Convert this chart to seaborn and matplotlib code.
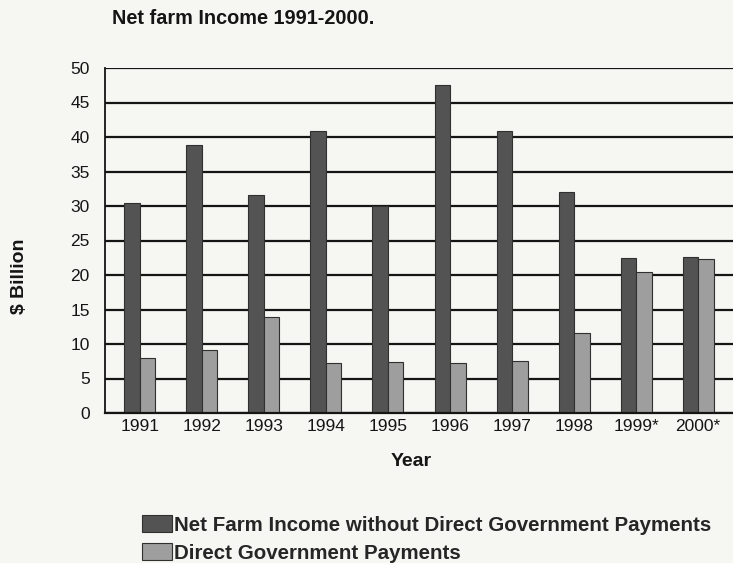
import matplotlib
matplotlib.use("Agg")
import matplotlib.pyplot as plt
import seaborn as sns
import pandas as pd

years = ["1991", "1992", "1993", "1994", "1995", "1996", "1997", "1998", "1999*", "2000*"]
net_income = [30.4, 38.8, 31.6, 40.8, 30.0, 47.6, 40.9, 32.0, 22.4, 22.6]
gov_payments = [7.9, 9.1, 13.9, 7.2, 7.4, 7.3, 7.5, 11.6, 20.4, 22.3]
series = ["Net Farm Income without Direct Government Payments", "Direct Government Payments"]
yticks = [0, 5, 10, 15, 20, 25, 30, 35, 40, 45, 50]

df = pd.DataFrame({
    "Year": years * 2,
    "Value": net_income + gov_payments,
    "Series": [series[0]] * len(years) + [series[1]] * len(years),
})

sns.set_theme(style="white")
plt.rcParams["font.family"] = ["Liberation Sans", "DejaVu Sans"]

bg = "#f6f6f3"
ink = "#151515"
fig = plt.figure(figsize=(7.33, 5.63), dpi=100, facecolor=bg)
ax = fig.add_axes([105 / 733, 1 - 413 / 563, 628 / 733, 345 / 563], facecolor=bg)

for v in yticks:
    ax.axhline(v, color=ink, lw=1.6, zorder=0)

sns.barplot(data=df, x="Year", y="Value", hue="Series", order=years, hue_order=series,
            palette=["#535353", "#9e9e9e"], width=0.5, gap=0, saturation=1,
            edgecolor="#303030", linewidth=0.8, ax=ax, zorder=2, legend=True)

ax.set_ylim(0, 50)
ax.set_xlim(-0.56, 9.56)
ax.set_yticks(yticks)
ax.tick_params(axis="both", length=0, labelsize=12.5, colors=ink)
ax.tick_params(axis="y", pad=11)
ax.tick_params(axis="x", pad=4)
for s in ["top", "right"]:
    ax.spines[s].set_visible(False)
ax.spines["left"].set_color(ink)
ax.spines["left"].set_linewidth(1.3)
ax.spines["bottom"].set_color(ink)
ax.spines["bottom"].set_linewidth(1.6)

ax.set_xlabel("Year", fontsize=14, fontweight="bold", color=ink)
ax.xaxis.set_label_coords((411 - 105) / 628, -(461 - 413) / 345)
ax.xaxis.label.set_va("center")
ax.set_ylabel("$ Billion", fontsize=14, fontweight="bold", color=ink)
ax.yaxis.set_label_coords(-(105 - 19) / 628, (413 - 276) / 345)
ax.yaxis.label.set_va("center")

fig.text(112 / 733, 1 - 19 / 563, "Net farm Income 1991-2000.", fontsize=14.3,
         fontweight="bold", color=ink, ha="left", va="center")

handles, labels = ax.get_legend_handles_labels()
ax.legend_.remove()
fig.legend(handles, labels, loc="upper left", bbox_to_anchor=(132 / 733, 1 - 505 / 563),
           frameon=False, borderpad=0, handlelength=1.45, handleheight=0.85,
           handletextpad=0.1, labelspacing=0.42,
           prop={"weight": "bold", "size": 14.8, "family": "Liberation Sans"})

fig.savefig("out.png", dpi=100, facecolor=bg)
